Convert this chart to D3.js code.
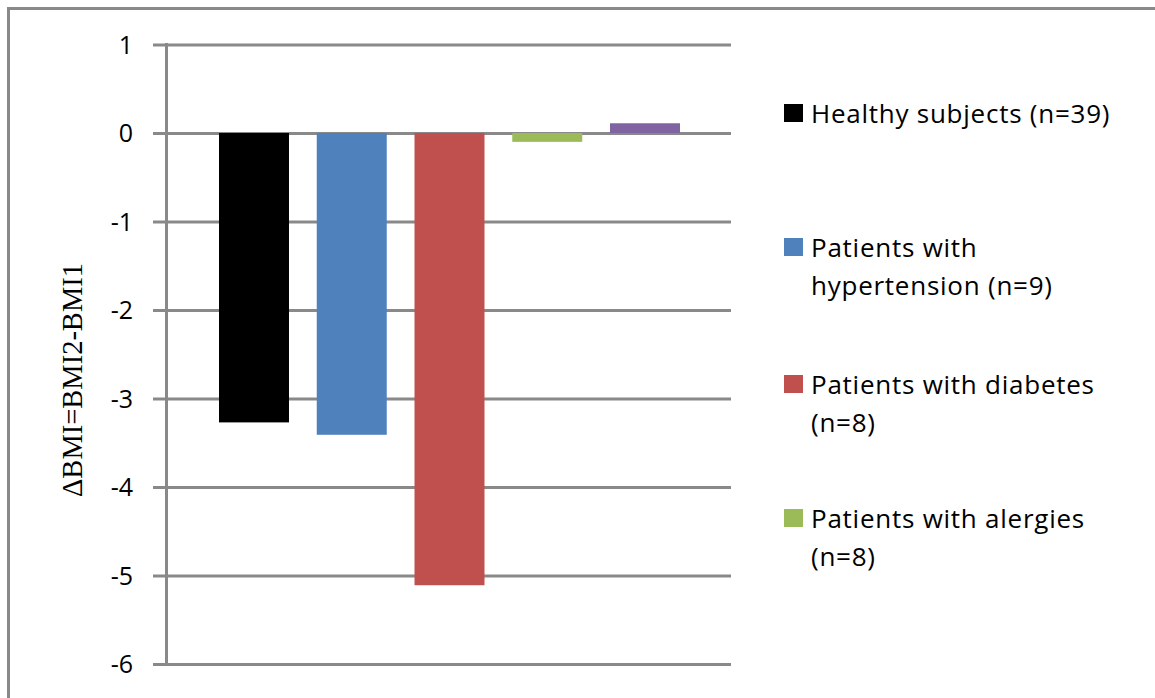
<!DOCTYPE html>
<html>
<head>
<meta charset="utf-8">
<script src="https://cdn.jsdelivr.net/npm/d3@7"></script>
<style>
  html, body { margin: 0; padding: 0; background: #fff; }
  svg { display: block; }
  .lab { font-family: "Open Sans", "Noto Sans", sans-serif; fill: #000; }
</style>
</head>
<body>
<svg id="chart" width="1155" height="698"></svg>
<script>
// Change in BMI (BMI2 - BMI1) per group
const groups = [
  "Healthy subjects (n=39)",
  "Patients with hypertension (n=9)",
  "Patients with diabetes (n=8)",
  "Patients with alergies (n=8)",
  "Patients with other conditions"
];
const deltaBMI = [-3.27, -3.41, -5.11, -0.10, 0.11];
const colors = ["#000000", "#4f81bd", "#c0504d", "#9bbb59", "#8064a2"];

// Legend entries (only the first four are shown), split across lines
const legendLines = [
  ["Healthy subjects (n=39)"],
  ["Patients with", "hypertension (n=9)"],
  ["Patients with diabetes", "(n=8)"],
  ["Patients with alergies", "(n=8)"]
];

const tickValues = [1, 0, -1, -2, -3, -4, -5, -6];
const tickLabels = ["1", "0", "-1", "-2", "-3", "-4", "-5", "-6"];
const axisTitle = "\u0394BMI=BMI2-BMI1";

const svg = d3.select("#chart");
const gridColor = "#898989";

// outer frame (top and left edges visible)
svg.append("rect")
  .attr("x", 8.5).attr("y", 8.5)
  .attr("width", 1400).attr("height", 900)
  .attr("fill", "none").attr("stroke", gridColor).attr("stroke-width", 3);

const plot = { left: 166.5, right: 731, top: 44.5, bottom: 664 };

const y = d3.scaleLinear().domain([-6, 1]).range([plot.bottom, plot.top]);
const x = d3.scaleBand().domain(groups).range([219, 680])
  .paddingInner(0.284).paddingOuter(0);

// gridlines + tick marks
const yAxis = d3.axisLeft(y)
  .tickValues(tickValues)
  .tickFormat(d => tickLabels[tickValues.indexOf(d)])
  .tickSize(-(plot.right - plot.left))
  .tickPadding(0);

const gAxis = svg.append("g")
  .attr("transform", `translate(${plot.left},0)`)
  .call(yAxis);
gAxis.select(".domain").remove();
gAxis.selectAll(".tick line")
  .attr("x1", 153 - plot.left)
  .attr("stroke", gridColor).attr("stroke-width", 3);
gAxis.selectAll(".tick text")
  .attr("class", "lab")
  .attr("x", 133 - plot.left)
  .attr("dy", "0.35em")
  .style("font-size", "25px")
  .style("font-family", "'Open Sans', 'Noto Sans', sans-serif")
  .attr("fill", "#000");

// vertical axis line
svg.append("line")
  .attr("x1", plot.left).attr("x2", plot.left)
  .attr("y1", plot.top - 1.5).attr("y2", plot.bottom + 1.5)
  .attr("stroke", gridColor).attr("stroke-width", 3);

// bars
svg.append("g").selectAll("rect")
  .data(groups)
  .join("rect")
  .attr("x", d => x(d))
  .attr("width", x.bandwidth())
  .attr("y", (d, i) => y(Math.max(0, deltaBMI[i])))
  .attr("height", (d, i) => Math.abs(y(deltaBMI[i]) - y(0)))
  .attr("fill", (d, i) => colors[i]);

// y-axis title
svg.append("text")
  .attr("transform", "translate(82,380) rotate(-90)")
  .attr("text-anchor", "middle")
  .style("font-family", "'Liberation Serif', 'DejaVu Serif', serif")
  .style("font-size", "28.5px")
  .attr("fill", "#000")
  .text(axisTitle);

// legend
const legendBaselines = [123, 257, 394, 528];
const lineGap = 38;
const legend = svg.append("g");
legendLines.forEach((lines, i) => {
  const base = legendBaselines[i];
  legend.append("rect")
    .attr("x", 784).attr("y", base - 19)
    .attr("width", 19).attr("height", 18)
    .attr("fill", colors[i]);
  lines.forEach((ln, j) => {
    legend.append("text")
      .attr("class", "lab")
      .attr("x", 811).attr("y", base + j * lineGap)
      .style("font-size", "26px")
      .style("letter-spacing", "0.75px")
      .text(ln);
  });
});
</script>
</body>
</html>
